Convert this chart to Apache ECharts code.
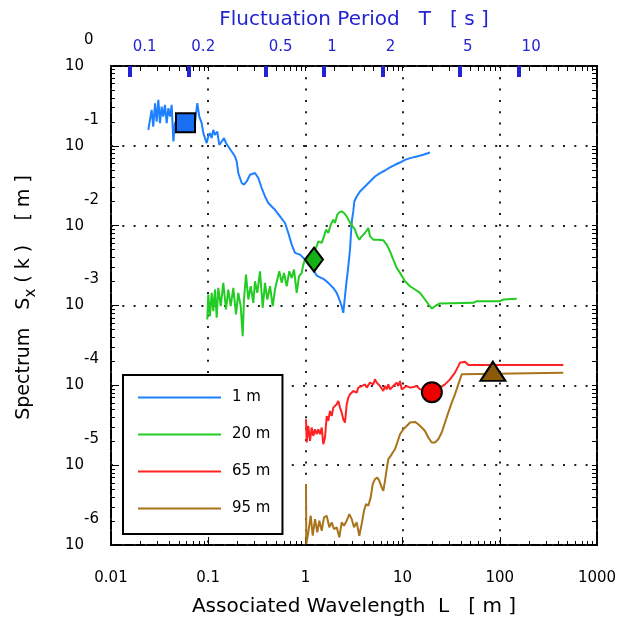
<!DOCTYPE html>
<html><head><meta charset="utf-8">
<script src="https://cdn.jsdelivr.net/npm/echarts@6/dist/echarts.min.js"></script>
<style>html,body{margin:0;padding:0;background:#fff}#c{width:624px;height:622px}</style>
</head><body><div id="c"></div>
<script>
// ---------------- data ----------------
const seriesNames = ['1 m', '20 m', '65 m', '95 m'];

const blueL = [0.0242,0.0252,0.0262,0.0272,0.0284,0.0295,0.0307,0.0319,0.0332,0.0345,0.0359,0.0374,0.0389,0.0405,0.0421,0.0438,0.0455,0.0513,0.0577,0.0650,0.0731,0.0772,0.0810,0.0857,0.0891,0.0927,0.0965,0.1002,0.1043,0.1086,0.1128,0.1175,0.1240,0.1301,0.1377,0.1454,0.1524,0.1610,0.1745,0.1887,0.1964,0.2040,0.2212,0.2335,0.2489,0.2692,0.3030,0.3277,0.3551,0.3841,0.4153,0.4500,0.4866,0.5480,0.6168,0.6670,0.7231,0.7816,0.8799,0.9906,1.071,1.206,1.307,1.528,1.720,1.936,2.099,2.233,2.363,2.454,2.513,2.616,2.763,2.877,2.946,3.017,3.111,3.184,3.371,3.645,4.105,4.620,5.200,5.855,6.590,7.420,8.352,9.404,10.59,11.92,13.97,16.33,19.14];
const blueS = [0.1585,0.1510,0.2818,0.1743,0.3418,0.2012,0.3758,0.1922,0.3099,0.2324,0.3256,0.1922,0.2960,0.2324,0.3256,0.1132,0.1939,0.2239,0.1831,0.2113,0.1922,0.3418,0.2324,0.1922,0.1441,0.1248,0.1081,0.1307,0.1441,0.1248,0.1585,0.1372,0.1510,0.1029,0.1132,0.1248,0.1081,0.0980,0.0849,0.0735,0.0637,0.0456,0.0342,0.0326,0.0358,0.0434,0.0456,0.0395,0.0296,0.0232,0.0192,0.0174,0.0158,0.0131,0.0108,0.00810,0.00579,0.00456,0.00434,0.00376,0.00326,0.00282,0.00237,0.00216,0.00192,0.00166,0.00144,0.00119,0.000980,0.000810,0.00108,0.00174,0.00310,0.00501,0.00810,0.0119,0.0151,0.0201,0.0232,0.0268,0.0310,0.0358,0.0413,0.0456,0.0491,0.0536,0.0579,0.0618,0.0668,0.0702,0.0735,0.0772,0.0824];

const greenL = [0.0979,0.1002,0.1043,0.1086,0.1128,0.1175,0.1223,0.1270,0.1345,0.1430,0.1524,0.1610,0.1704,0.1813,0.1932,0.2040,0.2160,0.2264,0.2335,0.2448,0.2586,0.2737,0.2911,0.3030,0.3199,0.3411,0.3636,0.3841,0.4055,0.4323,0.4609,0.4866,0.5139,0.5388,0.5706,0.6023,0.6421,0.6831,0.7231,0.7634,0.8138,0.8594,0.9160,0.9515,0.9906,1.089,1.206,1.307,1.357,1.472,1.554,1.629,1.720,1.821,1.936,2.016,2.129,2.233,2.363,2.495,2.660,2.829,3.066,3.237,3.420,3.585,3.795,4.105,4.438,4.620,4.996,5.623,6.330,6.863,7.420,8.022,8.694,9.404,10.59,11.92,13.42,15.10,17.00,19.14,20.07,22.06,24.25,53.39,57.85,100.5,108.6,149.2];
const greenS = [6.68e-4,1.372e-3,7.35e-4,1.441e-3,8.49e-4,1.585e-3,7.02e-4,1.664e-3,9.80e-4,1.922e-3,8.91e-4,1.585e-3,9.80e-4,1.664e-3,7.72e-4,1.441e-3,9.80e-4,4.13e-4,1.189e-3,2.44e-3,1.189e-3,1.742e-3,1.081e-3,2.012e-3,1.441e-3,2.683e-3,9.36e-4,1.922e-3,1.189e-3,1.742e-3,9.80e-4,1.585e-3,2.113e-3,2.683e-3,1.922e-3,2.563e-3,1.742e-3,2.683e-3,2.219e-3,2.818e-3,1.441e-3,2.324e-3,2.563e-3,3.256e-3,3.758e-3,3.98e-3,4.557e-3,5.511e-3,6.364e-3,6.078e-3,7.35e-3,8.91e-3,8.10e-3,1.029e-2,1.189e-2,1.081e-2,1.372e-2,1.466e-2,1.510e-2,1.441e-2,1.307e-2,1.132e-2,9.80e-3,8.91e-3,7.35e-3,6.68e-3,7.35e-3,8.10e-3,9.36e-3,7.35e-3,6.68e-3,6.68e-3,6.55e-3,5.79e-3,4.77e-3,3.758e-3,2.96e-3,2.563e-3,2.012e-3,1.742e-3,1.585e-3,1.441e-3,1.189e-3,9.72e-4,9.17e-4,1.0e-3,1.059e-3,1.081e-3,1.132e-3,1.132e-3,1.189e-3,1.213e-3];

const redL = [1.0144,1.0314,1.071,1.115,1.161,1.206,1.256,1.307,1.357,1.414,1.472,1.528,1.591,1.656,1.720,1.791,1.865,1.936,2.016,2.099,2.180,2.270,2.363,2.454,2.555,2.660,2.763,2.877,2.995,3.111,3.237,3.371,3.501,3.645,3.795,3.941,4.105,4.273,4.438,4.620,4.810,4.996,5.200,5.414,5.623,5.855,6.095,6.330,6.590,6.863,7.127,7.420,7.725,8.022,8.352,8.694,9.031,9.404,9.789,10.17,11.02,11.92,12.89,13.97,15.10,17.00,20.07,24.25,27.31,30.74,34.60,37.42,38.95,43.85,47.43,450];
const redS = [3.758e-5,1.922e-5,3.099e-5,2.012e-5,2.960e-5,2.324e-5,2.818e-5,2.44e-5,2.818e-5,2.44e-5,2.960e-5,1.831e-5,2.219e-5,4.13e-5,3.58e-5,4.77e-5,4.13e-5,5.26e-5,5.51e-5,5.79e-5,6.36e-5,5.26e-5,4.56e-5,3.758e-5,3.42e-5,5.79e-5,7.02e-5,7.72e-5,7.35e-5,8.49e-5,8.91e-5,8.10e-5,9.36e-5,8.91e-5,9.80e-5,9.36e-5,1.029e-4,9.36e-5,9.80e-5,1.081e-4,1.132e-4,1.029e-4,1.189e-4,1.081e-4,1.132e-4,9.80e-5,1.029e-4,8.49e-5,9.80e-5,8.91e-5,1.029e-4,8.91e-5,8.49e-5,9.80e-5,9.36e-5,1.081e-4,9.80e-5,1.132e-4,8.91e-5,9.36e-5,9.80e-5,9.36e-5,9.52e-5,9.80e-5,8.91e-5,8.66e-5,8.41e-5,9.36e-5,1.029e-4,1.189e-4,1.441e-4,1.742e-4,1.922e-4,1.978e-4,1.794e-4,1.794e-4];

const brownL = [1.0144,1.0216,1.071,1.134,1.189,1.256,1.326,1.390,1.472,1.554,1.656,1.762,1.865,1.969,2.099,2.233,2.363,2.495,2.660,2.829,2.995,3.162,3.371,3.585,3.706,3.822,4.008,4.202,4.438,4.697,4.925,5.200,5.492,5.759,6.095,6.330,6.590,6.863,7.127,7.545,7.910,8.352,8.820,9.404,10.17,11.02,11.92,13.42,14.50,15.72,17.00,18.38,19.93,21.54,23.29,25.25,27.31,29.53,32.00,34.60,37.42,40.55,42.12,450];
const brownS = [5.79e-6,1.029e-6,1.441e-6,2.324e-6,1.307e-6,2.113e-6,1.441e-6,2.012e-6,1.510e-6,2.219e-6,2.324e-6,1.664e-6,1.922e-6,1.585e-6,1.664e-6,1.248e-6,1.922e-6,1.742e-6,2.012e-6,2.44e-6,2.113e-6,1.664e-6,1.922e-6,1.307e-6,1.248e-6,1.922e-6,2.683e-6,3.256e-6,3.099e-6,3.948e-6,5.79e-6,6.68e-6,7.02e-6,6.36e-6,5.26e-6,4.77e-6,6.36e-6,8.91e-6,1.189e-5,1.307e-5,1.441e-5,1.585e-5,1.922e-5,2.44e-5,2.818e-5,3.099e-5,3.42e-5,3.48e-5,3.256e-5,2.960e-5,2.683e-5,2.219e-5,1.922e-5,1.922e-5,2.113e-5,2.563e-5,3.42e-5,4.56e-5,6.08e-5,7.72e-5,1.029e-4,1.372e-4,1.441e-4,1.441e-4];

// highlighted points (square, diamond, circle, triangle)
const markerL = [0.0584, 1.226, 20.0, 85];
const markerS = [0.194, 0.00376, 8.2e-5, 1.5e-4];

// axis ranges and top-axis (period) tick labels
const Lrange = [0.01, 1000];
const Srange = [1e-6, 1];
const periodTicks = [0.1, 0.2, 0.5, 1, 2, 5, 10];

// ---------------- styles ----------------
const FONT = 'DejaVu Sans';
const BLACK = '#000';
const TBLUE = '#2323d2';
const colors = ['#1f80ff', '#22cc22', '#ff2222', '#a8731a'];
const markerStyle = [
  {symbol: 'rect', size: 19, fill: '#1a6ef2'},
  {symbol: 'diamond', size: [18, 24], fill: '#14b014'},
  {symbol: 'circle', size: 20, fill: '#ee0000'},
  {symbol: 'triangle', size: [25, 19], fill: '#8a5a08'}
];

const lg = Math.log10;
const zip = (a, b) => a.map((v, i) => [v, b[i]]);
const gAcc = 9.81;
const periodOf = L => Math.sqrt(2 * Math.PI * L / gAcc); // deep-water dispersion

const majorX = [], minorX = [], majorY = [], minorY = [];
for (let d = lg(Lrange[0]); d <= lg(Lrange[1]); d++) { majorX.push(d); if (d < lg(Lrange[1])) for (let k = 2; k < 10; k++) minorX.push(d + lg(k)); }
for (let d = lg(Srange[0]); d <= lg(Srange[1]); d++) { majorY.push(d); if (d < lg(Srange[1])) for (let k = 2; k < 10; k++) minorY.push(d + lg(k)); }

const decoAxis = (extra) => Object.assign({
  axisLine: {show: false, onZero: false},
  axisLabel: {show: false},
  splitLine: {show: false}
}, extra);
const dotted = {show: true, lineStyle: {color: '#222', width: 2, type: [2, 9.3]}};

const lineData = [[blueL, blueS], [greenL, greenS], [redL, redS], [brownL, brownS]];

const option = {
  animation: false,
  textStyle: {fontFamily: FONT},
  grid: {left: 111, right: 27, top: 66, bottom: 76, show: true, borderColor: BLACK, borderWidth: 2, backgroundColor: 'transparent'},
  legend: {
    data: seriesNames, orient: 'vertical', left: 123, top: 375,
    padding: [15, 12, 18, 15], itemGap: 22, itemWidth: 83, itemHeight: 2, icon: 'rect',
    backgroundColor: '#fff', borderColor: BLACK, borderWidth: 2, selectedMode: false,
    textStyle: {fontSize: 15, color: BLACK, fontFamily: FONT, padding: [0, 0, 0, 6]}
  },
  xAxis: [
    {
      type: 'log', logBase: 10, min: Lrange[0], max: Lrange[1], splitNumber: 5, position: 'bottom',
      axisLine: {show: false, onZero: false},
      axisTick: {show: true, inside: true, length: 8, lineStyle: {color: BLACK, width: 1}},
      axisLabel: {margin: 26, fontSize: 15, color: BLACK, fontFamily: FONT, formatter: v => String(+(+v).toPrecision(6))},
      splitLine: dotted,
      name: 'Associated Wavelength  L   [ m ]', nameLocation: 'middle', nameGap: 52,
      nameTextStyle: {fontSize: 20, color: BLACK, fontFamily: FONT}
    },
    decoAxis({type: 'value', min: lg(Lrange[0]), max: lg(Lrange[1]), position: 'bottom',
      axisTick: {show: true, inside: true, length: 4, customValues: minorX, lineStyle: {color: BLACK, width: 1}}}),
    decoAxis({type: 'value', min: lg(Lrange[0]), max: lg(Lrange[1]), position: 'top',
      axisTick: {show: true, inside: true, length: 5, customValues: majorX.concat(minorX), lineStyle: {color: BLACK, width: 1}}}),
    {
      type: 'value', min: lg(periodOf(Lrange[0])), max: lg(periodOf(Lrange[1])), position: 'top',
      axisLine: {show: false, onZero: false}, splitLine: {show: false},
      axisTick: {show: true, inside: true, length: 11, customValues: periodTicks.map(lg), lineStyle: {color: TBLUE, width: 4}},
      axisLabel: {show: true, customValues: periodTicks.map(lg), margin: 11, fontSize: 15, color: TBLUE, fontFamily: FONT,
        align: 'left', padding: [0, 0, 0, 3],
        formatter: v => String(+Math.pow(10, v).toPrecision(3))},
      name: 'Fluctuation Period   T   [ s ]', nameLocation: 'middle', nameGap: 36,
      nameTextStyle: {fontSize: 20, color: TBLUE, fontFamily: FONT}
    }
  ],
  yAxis: [
    {
      type: 'log', logBase: 10, min: Srange[0], max: Srange[1], splitNumber: 6, position: 'left',
      axisLine: {show: false, onZero: false},
      axisTick: {show: true, inside: true, length: 8, lineStyle: {color: BLACK, width: 1}},
      axisLabel: {
        align: 'left', margin: 46, showMinLabel: true, showMaxLabel: true,
        formatter: v => '{e|' + Math.round(lg(v)) + '}\n{b|10}\n{s| }',
        rich: {
          e: {fontSize: 15, lineHeight: 34, padding: [0, 0, 0, 19], color: BLACK, fontFamily: FONT},
          b: {fontSize: 15, lineHeight: 18, color: BLACK, fontFamily: FONT},
          s: {fontSize: 15, lineHeight: 34}
        }
      },
      splitLine: dotted,
      name: 'Spectrum   S{sub|x} ( k )    [ m ]', nameLocation: 'middle', nameRotate: 90, nameGap: 72,
      nameTextStyle: {fontSize: 19, color: BLACK, fontFamily: FONT, lineHeight: 30, padding: [0, 0, 0, 16],
        rich: {sub: {fontSize: 15, lineHeight: 14, verticalAlign: 'bottom', color: BLACK, fontFamily: FONT}}}
    },
    decoAxis({type: 'value', min: lg(Srange[0]), max: lg(Srange[1]), position: 'left',
      axisTick: {show: true, inside: true, length: 4, customValues: minorY, lineStyle: {color: BLACK, width: 1}}}),
    decoAxis({type: 'value', min: lg(Srange[0]), max: lg(Srange[1]), position: 'right',
      axisTick: {show: true, inside: true, length: 5, customValues: majorY.concat(minorY), lineStyle: {color: BLACK, width: 1}}})
  ],
  series: lineData.map((d, i) => ({
    type: 'line', name: seriesNames[i], xAxisIndex: 0, yAxisIndex: 0,
    data: zip(d[0], d[1]), showSymbol: false, symbol: 'none',
    lineStyle: {width: 2, color: colors[i]}, itemStyle: {color: colors[i]}, z: 3
  })).concat([{
    type: 'scatter', name: 'markers', xAxisIndex: 0, yAxisIndex: 0, z: 5,
    data: markerL.map((l, i) => ({
      value: [l, markerS[i]],
      symbol: markerStyle[i].symbol, symbolSize: markerStyle[i].size,
      itemStyle: {color: markerStyle[i].fill, borderColor: BLACK, borderWidth: 2, opacity: 1}
    }))
  }])
};

const chart = echarts.init(document.getElementById('c'), null, {renderer: 'canvas'});
chart.setOption(option);
</script>
</body></html>
